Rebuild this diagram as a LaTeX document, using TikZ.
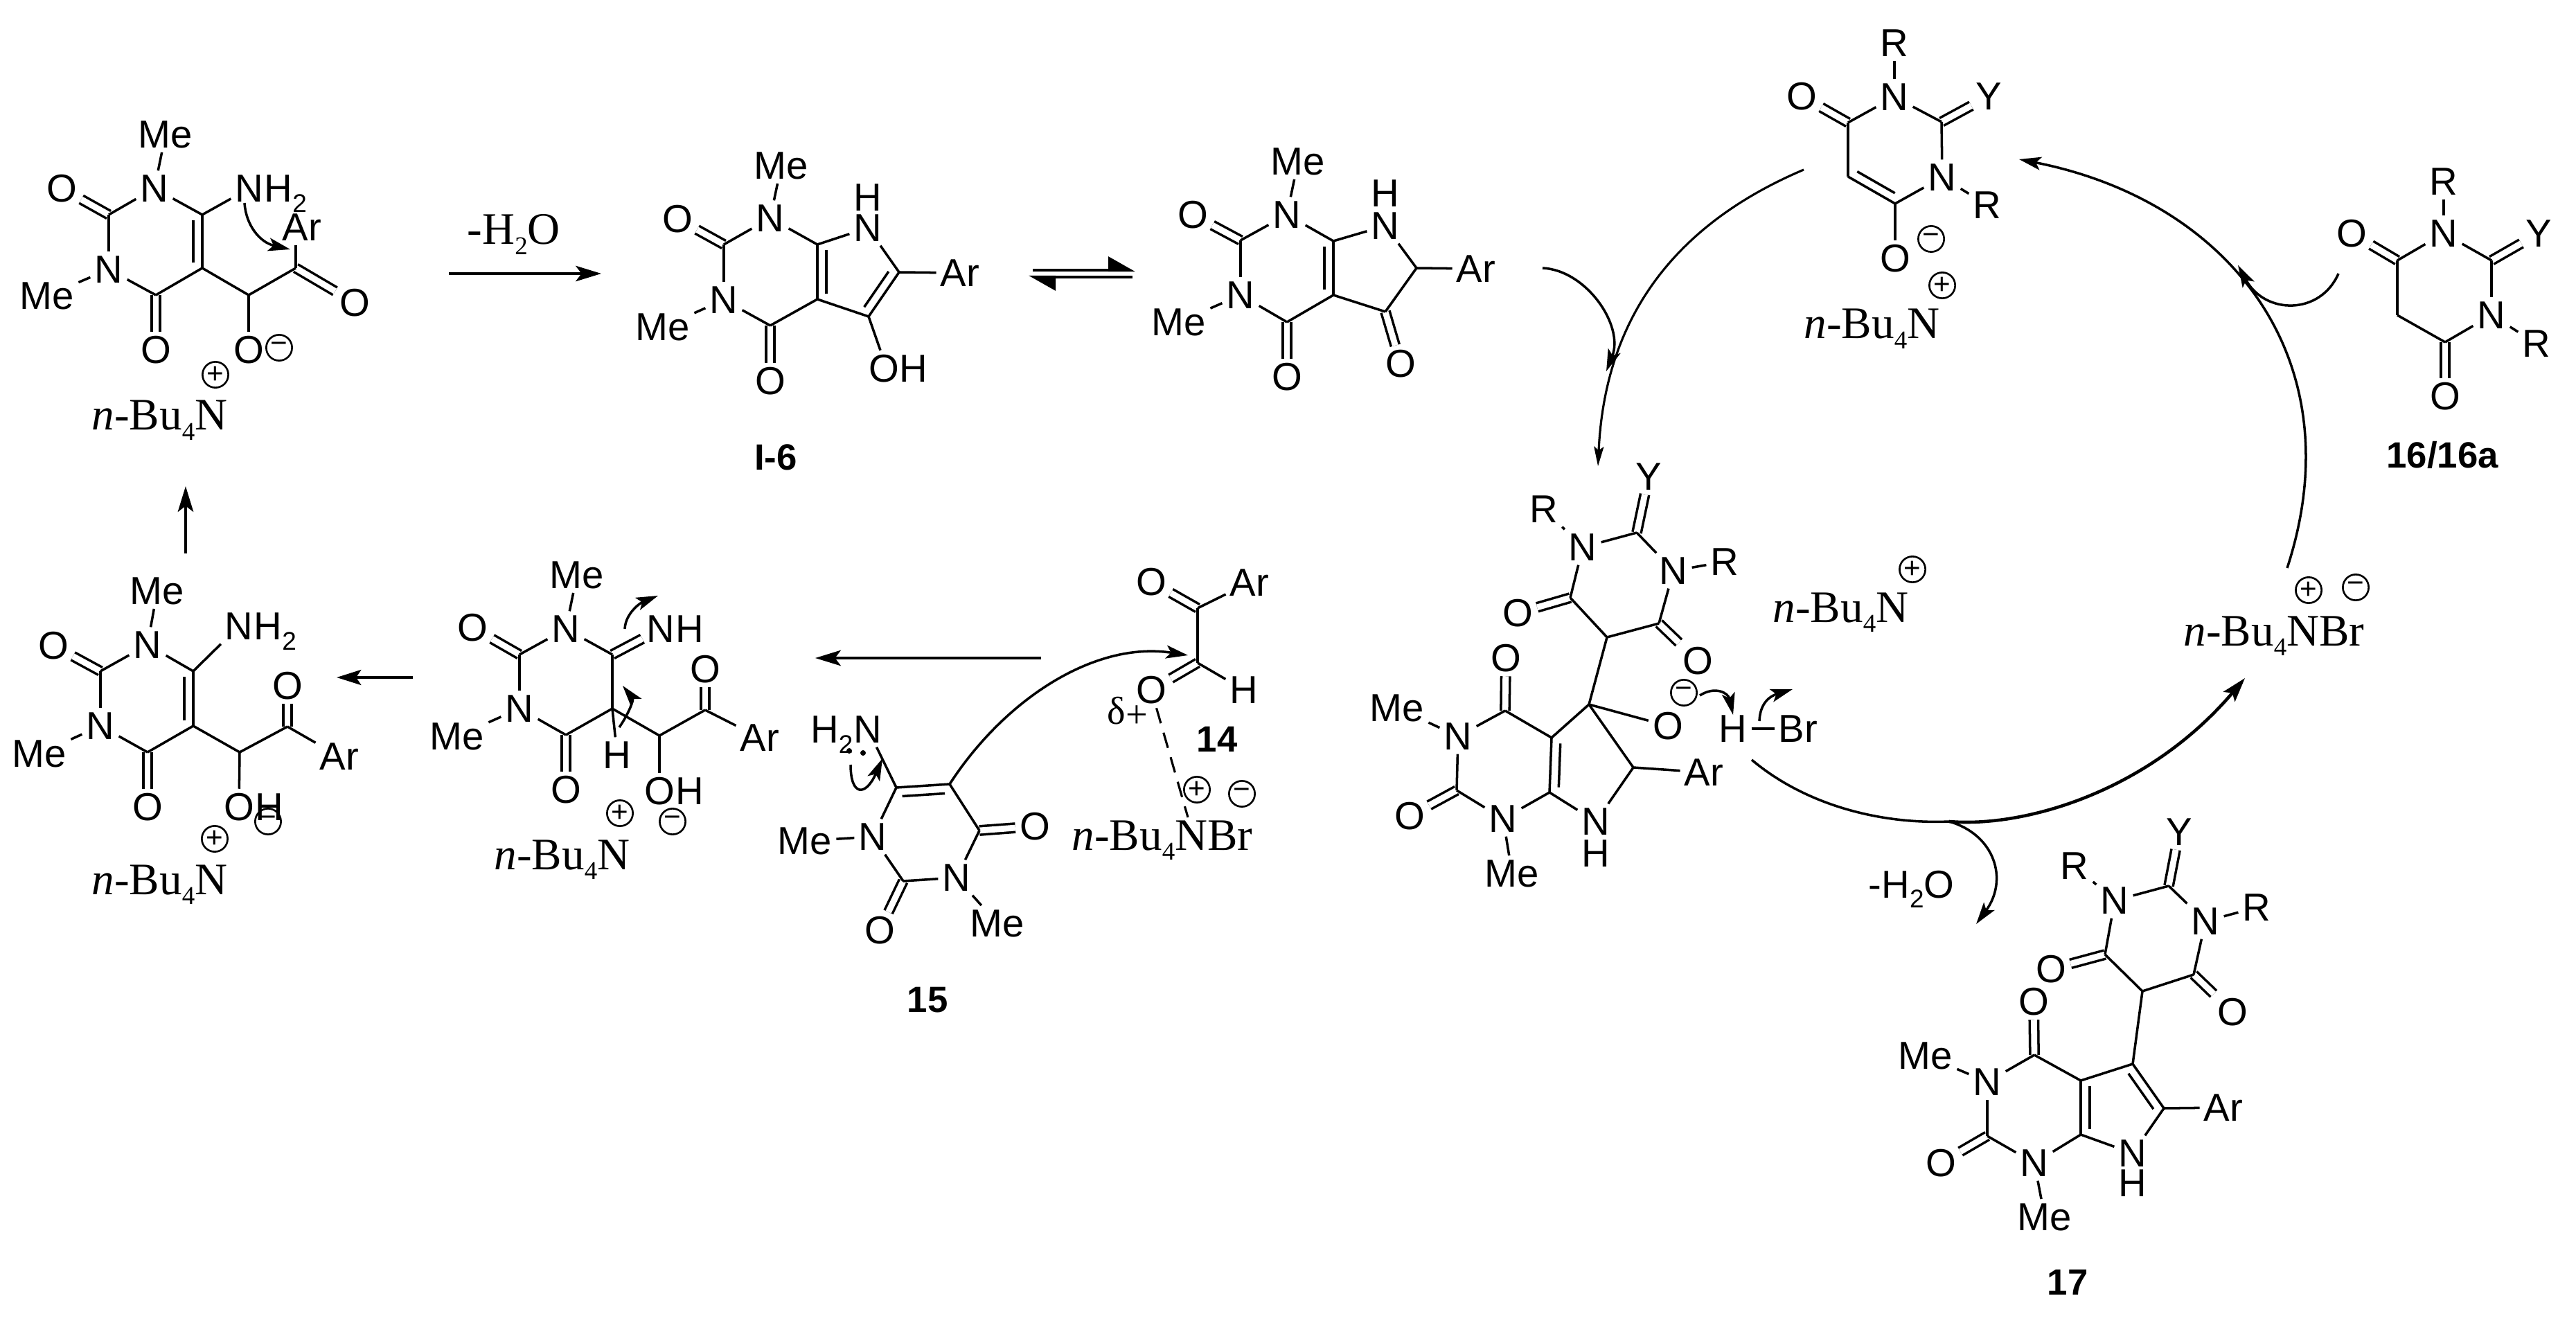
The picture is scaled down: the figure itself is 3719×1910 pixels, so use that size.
\documentclass[tikz,border=0pt]{standalone}
\usepackage{fontspec}
\setmainfont{Liberation Sans}
\newfontfamily\tmf{Liberation Serif}
\usetikzlibrary{arrows.meta,calc}
\newcommand\Sbs[1]{\raisebox{-4.2pt}{\fontsize{10.5}{12}\selectfont #1}}
\newcommand\Atm[4][]{\node[atom,#1] (#2) at (#3) {#4};}
\newcommand\Cc[2]{\coordinate (#1) at (#2);}
\newcommand\Chg[3]{\node[chg] (#1) at (#2) {#3};}
\newcommand\Bu[3]{\node[ser,anchor=base west] (#1) at (#2) {\textit{n}-Bu\Sbs{4}#3};}
\newcommand\Bonds[1]{\foreach \u/\v in {#1} \draw[bond] (\u) -- (\v);}
\newcommand\Dbls[1]{\foreach \u/\v in {#1} \draw[dbond] (\u) -- (\v);}
\newcommand\Inner[2]{\draw[bond] ($(#1)!.1!(#2)!3.7pt!90:(#2)$) -- ($(#2)!.1!(#1)!3.7pt!-90:(#1)$);}
\newcommand\Tail[3]{\node[atom,inner sep=0pt,anchor=base west,xshift=-1.6pt] (#1) at (#2.base east) {#3};}
\tikzset{
  atom/.style={font=\fontsize{16}{18}\selectfont,inner sep=1.6pt},
  ser/.style={font=\tmf\fontsize{18.5}{22}\selectfont,inner sep=0pt},
  lab/.style={font=\bfseries\fontsize{15}{18}\selectfont,inner sep=0pt},
  chg/.style={circle,draw,line width=.75pt,minimum size=10.6pt,inner sep=0pt,font=\fontsize{12}{12}\selectfont},
  bond/.style={line width=1pt},
  dbond/.style={line width=1pt,double,double distance=2.5pt},
  rxn/.style={line width=1pt,-{Stealth[length=10.5pt,width=6.4pt,inset=2.4pt]}},
  thk/.style={line width=1.3pt,-{Stealth[length=10pt,width=6.2pt,inset=2pt]}},
  mech/.style={line width=1pt,-{Stealth[length=9pt,width=5.4pt,inset=2pt]}},
  slim/.style={line width=.9pt,-{Stealth[length=8pt,width=4pt,inset=1.5pt]}},
}
\begin{document}
\begin{tikzpicture}[x=0.01cm,y=-0.01cm]
\useasboundingbox (0,0) rectangle (3719,1910);
\fill[white] (0,0) rectangle (3719,1910);

% --- molecule A (top left)
\Atm{a1}{239,194}{Me}\Atm{a2}{223,272}{N}\Atm{a3}{89,272}{O}\Cc{a4}{157,310}
\Atm{a5}{157,389}{N}\Atm{a6}{68,427}{Me}\Cc{a7}{225,426}\Atm{a8}{225,505}{O}
\Cc{a9}{292,387}\Cc{a10}{292,310}\Atm{a11}{360,272}{N}
\Tail{a11h}{a11}{H\Sbs{2}}
\Cc{a12}{359,426}\Atm{a13}{359,505}{O}\Cc{a14}{427,387}\Atm{a15}{512,437}{O}\Atm{a16}{436,328}{Ar}
\Dbls{a3/a4,a7/a8,a14/a15}
\Bonds{a1/a2,a2/a4,a4/a5,a5/a6,a5/a7,a7/a9,a9/a10,a10/a2,a10/a11,a9/a12,a12/a13,a12/a14}
\Inner{a9}{a10}
\draw[bond] (a14) -- (a14 |- a16.south);
\Chg{a17}{403,502}{−}\Chg{a18}{311,541}{+}
\Bu{a19}{132,621}{N}
\Cc{a20}{353,293}\Cc{a21}{419,360}
\draw[mech] (a20) .. controls (355,325) and (375,350) .. (a21);

% --- -H2O arrow
\node[ser,anchor=base west] (w1) at (674,353) {-H\Sbs{2}O};
\Cc{w2}{648,395}\Cc{w3}{868,395}
\draw[rxn] (w2) -- (w3);

% --- I-6
\Atm{b1}{1128,239}{Me}\Atm{b2}{1112,315}{N}\Atm{b3}{978,316}{O}\Cc{b4}{1045,353}
\Atm{b5}{1045,433}{N}\Atm{b6}{957,472}{Me}\Cc{b7}{1112,470}\Atm{b8}{1112,550}{O}
\Cc{b9}{1180,432}\Cc{b10}{1180,353}\Atm{b11}{1253,329}{N}\Atm{b12}{1253,285}{H}
\Cc{b13}{1298,393}\Atm{b14}{1386,394}{Ar}\Cc{b15}{1254,457}
\Atm{b16}{1297,532}{OH}
\Dbls{b3/b4,b7/b8}
\Bonds{b1/b2,b2/b4,b4/b5,b5/b6,b5/b7,b7/b9,b9/b10,b10/b2,b10/b11,b11/b13,b13/b14,b13/b15,b15/b9}
\draw[bond] (b15) -- ($(b16.north)+(-26,0)$);
\Inner{b10}{b9}\Inner{b15}{b13}
\node[lab] (b17) at (1120,660) {I-6};

% --- equilibrium
\Cc{q1}{1491,390}\Cc{q2}{1639,390}\Cc{q3}{1635,400}\Cc{q4}{1485,400}
\draw[line width=1.2pt,-{Stealth[harpoon,length=10pt,width=11pt,inset=0pt]}] (q1) -- (q2);
\draw[line width=1.2pt,-{Stealth[harpoon,length=10pt,width=11pt,inset=0pt]}] (q3) -- (q4);

% --- III
\Atm{c1}{1874,233}{Me}\Atm{c2}{1858,310}{N}\Atm{c3}{1722,310}{O}\Cc{c4}{1791,347}
\Atm{c5}{1791,426}{N}\Atm{c6}{1702,465}{Me}\Cc{c7}{1858,465}\Atm{c8}{1858,544}{O}
\Cc{c9}{1925,426}\Cc{c10}{1925,348}\Atm{c11}{2000,326}{N}\Atm{c12}{2000,279}{H}
\Cc{c13}{2045,387}\Atm{c14}{2131,388}{Ar}\Cc{c15}{2000,450}\Atm{c16}{2022,525}{O}
\Dbls{c3/c4,c7/c8,c15/c16}
\Bonds{c1/c2,c2/c4,c4/c5,c5/c6,c5/c7,c7/c9,c9/c10,c10/c2,c10/c11,c11/c13,c13/c14,c13/c15,c15/c9}
\Inner{c9}{c10}
\Cc{c17}{2227,387}\Cc{c18}{2319,536}
\draw[mech] (c17) .. controls (2290,390) and (2345,470) .. (c18);

% --- top right
\Atm{d1}{2735,62}{R}\Atm{d2}{2735,140}{N}\Atm{d3}{2601,139}{O}\Cc{d4}{2668,177}
\Cc{d5}{2803,176}\Atm{d6}{2871,139}{Y}\Atm{d7}{2804,256}{N}\Atm{d8}{2869,296}{R}
\Cc{d9}{2736,294}\Cc{d10}{2668,255}\Atm{d11}{2736,373}{O}
\Dbls{d3/d4,d5/d6}
\Bonds{d1/d2,d2/d4,d2/d5,d5/d7,d7/d8,d7/d9,d9/d11,d4/d10,d10/d9}
\Inner{d10}{d9}
\Chg{d12}{2788,345}{−}\Chg{d13}{2804,412}{+}
\Bu{d14}{2604,489}{N}
\Cc{d15}{2604,245}\Cc{d16}{2307,673}
\draw[slim] (d15) .. controls (2380,340) and (2315,500) .. (d16);

% --- 16/16a
\Atm{e1}{3528,262}{R}\Atm{e2}{3528,337}{N}\Atm{e3}{3395,337}{O}\Cc{e4}{3461,376}
\Cc{e5}{3597,376}\Atm{e6}{3665,337}{Y}\Atm{e7}{3597,455}{N}\Atm{e8}{3662,496}{R}
\Cc{e9}{3530,494}\Cc{e10}{3461,455}\Atm{e11}{3530,572}{O}
\Dbls{e3/e4,e5/e6,e9/e11}
\Bonds{e1/e2,e2/e4,e2/e5,e5/e7,e7/e8,e7/e9,e9/e10,e10/e4}
\node[lab] (e12) at (3526,657) {16/16a};
\Cc{e13}{3376,395}\Cc{e14}{3231,383}
\draw[mech] (e13) .. controls (3350,455) and (3270,455) .. (e14);

% --- catalytic arc
\Cc{r1}{3302,820}\Cc{r2}{2915,230}
\draw[mech] (r1) .. controls (3400,520) and (3220,290) .. (r2);
\Bu{r3}{3152,932}{NBr}
\Chg{r4}{3333,852}{+}\Chg{r5}{3401,848}{−}

% --- central adduct
\Atm{f1}{2380,688}{Y}\Cc{f2}{2363,769}\Atm{f3}{2285,790}{N}\Atm{f4}{2229,735}{R}
\Atm{f5}{2416,824}{N}\Atm{f6}{2490,811}{R}\Cc{f7}{2267,863}\Atm{f8}{2191,885}{O}
\Cc{f9}{2395,900}\Atm{f10}{2451,954}{O}\Cc{f11}{2320,920}\Cc{f12}{2294,1017}
\Atm{f13}{2408,1048}{O}\Cc{f14}{2173,1026}\Atm{f15}{2174,950}{O}\Cc{f16}{2240,1065}
\Cc{f17}{2237,1144}\Atm{f18}{2105,1063}{N}\Atm{f19}{2017,1022}{Me}\Cc{f20}{2103,1141}
\Atm{f21}{2035,1178}{O}\Atm{f22}{2170,1182}{N}\Atm{f23}{2183,1261}{Me}
\Atm{f24}{2304,1186}{N}\Atm{f25}{2304,1232}{H}\Cc{f26}{2358,1108}\Atm{f27}{2460,1115}{Ar}
\Dbls{f1/f2,f7/f8,f9/f10,f14/f15,f20/f21}
\Bonds{f3/f4,f2/f3,f2/f5,f5/f6,f3/f7,f5/f9,f7/f11,f9/f11,f11/f12,f12/f13,f12/f16,f12/f26,f14/f16,f14/f18,f18/f19,f18/f20,f20/f22,f22/f23,f22/f17,f16/f17,f17/f24,f24/f26,f26/f27}
\Inner{f16}{f17}
\Chg{f28}{2431,1000}{−}
\Bu{f29}{2559,898}{N}\Chg{f30}{2761,822}{+}
\Atm{f31}{2502,1052}{H}\Atm{f32}{2596,1052}{Br}
\Bonds{f31/f32}
\Cc{f33}{2454,1004}\Cc{f34}{2502,1032}\Cc{f35}{2540,1041}\Cc{f36}{2588,995}
\draw[mech] (f33) .. controls (2476,990) and (2495,1000) .. (f34);
\draw[mech] (f35) .. controls (2541,1015) and (2555,1005) .. (f36);
% lower arc and branch
\Cc{s1}{2529,1097}\Cc{s2}{2814,1186}\Cc{s3}{3241,979}\Cc{s4}{2853,1334}
\draw[bond] (s1) .. controls (2610,1165) and (2720,1190) .. (s2);
\draw[thk] (s2) .. controls (2920,1195) and (3100,1145) .. (s3);
\draw[mech] (s2) .. controls (2880,1205) and (2900,1270) .. (s4);
\node[atom,inner sep=0pt,anchor=base west] (s5) at (2697,1296) {-H\Sbs{2}O};

% --- 17
\Atm{g1}{3146,1201}{Y}\Cc{g2}{3131,1279}\Atm{g3}{3053,1300}{N}\Atm{g4}{2995,1250}{R}
\Atm{g5}{3184,1330}{N}\Atm{g6}{3258,1310}{R}\Cc{g7}{3039,1378}\Atm{g8}{2961,1399}{O}
\Cc{g9}{3167,1407}\Atm{g10}{3223,1461}{O}\Cc{g11}{3093,1431}\Cc{g12}{3079,1536}
\Cc{g13}{3004,1560}\Cc{g14}{2937,1523}\Atm{g15}{2936,1446}{O}\Atm{g16}{2869,1562}{N}
\Atm{g17}{2780,1524}{Me}\Cc{g18}{2869,1640}\Atm{g19}{2802,1679}{O}\Atm{g20}{2937,1679}{N}
\Atm{g21}{2952,1757}{Me}\Cc{g22}{3004,1638}\Atm{g23}{3079,1665}{N}\Atm{g24}{3079,1708}{H}
\Cc{g25}{3124,1600}\Atm{g26}{3210,1599}{Ar}
\Dbls{g1/g2,g7/g8,g9/g10,g14/g15,g18/g19}
\Bonds{g3/g4,g2/g3,g2/g5,g5/g6,g3/g7,g5/g9,g7/g11,g9/g11,g11/g12,g12/g13,g13/g14,g14/g16,g16/g17,g16/g18,g18/g20,g20/g21,g20/g22,g22/g13,g22/g23,g23/g25,g25/g12,g25/g26}
\Inner{g13}{g22}\Inner{g25}{g12}
\node[lab] (g27) at (2985,1851) {17};

% --- 14
\Atm{h1}{1662,840}{O}\Atm{h2}{1804,841}{Ar}\Cc{h3}{1729,878}\Cc{h4}{1729,957}
\Atm{h5}{1662,996}{O}\Atm{h6}{1796,996}{H}
\Dbls{h1/h3,h4/h5}
\Bonds{h2/h3,h3/h4,h4/h6}
\node[ser,font=\tmf\fontsize{16}{18}\selectfont,anchor=base west] (h7) at (1598,1045) {δ\raisebox{-1.5pt}{+}};
\node[lab] (h8) at (1757,1067) {14};
\Bu{h9}{1547,1227}{NBr}
\Cc{h10}{1715,1180}
\draw[line width=.9pt,dash pattern=on 6.5pt off 4pt] (h5) -- (h10);
\Chg{h11}{1728,1140}{+}\Chg{h12}{1793,1146}{−}

% --- 15
\Atm{i1}{1253,1053}{N}
\node[atom,inner sep=0pt,anchor=base east,xshift=1.6pt] (i1h) at (i1.base west) {H\Sbs{2}};
\Cc{i2}{1294,1137}\Cc{i3}{1371,1132}\Cc{i4}{1414,1199}\Atm{i5}{1494,1193}{O}
\Atm{i6}{1381,1267}{N}\Atm{i7}{1440,1333}{Me}\Cc{i8}{1304,1272}\Atm{i9}{1270,1343}{O}
\Atm{i10}{1260,1208}{N}\Atm{i11}{1162,1214}{Me}
\Dbls{i4/i5,i8/i9}
\Bonds{i1/i2,i2/i3,i3/i4,i4/i6,i6/i7,i6/i8,i8/i10,i10/i11,i10/i2}
\Inner{i3}{i2}
\node[lab] (i12) at (1339,1444) {15};
\fill (1226,1084) circle (4) (1246,1087) circle (4);
\Cc{i13}{1228,1104}\Cc{i14}{1274,1095}\Cc{i15}{1715,946}
\draw[mech] (i13) .. controls (1228,1150) and (1250,1150) .. (i14);
\draw[mech] (i3) .. controls (1450,1010) and (1580,925) .. (i15);
\Cc{i16}{1503,950}\Cc{i17}{1177,950}
\draw[rxn] (i16) -- (i17);

% --- mid right (k)
\Atm{k1}{833,830}{Me}\Atm{k2}{817,908}{N}\Atm{k3}{682,906}{O}\Cc{k4}{750,945}
\Atm{k5}{750,1023}{N}\Atm{k6}{660,1063}{Me}\Cc{k7}{817,1061}\Atm{k8}{817,1140}{O}
\Cc{k9}{884,1023}\Cc{k10}{884,945}\Atm{k11}{954,908}{N}
\Tail{k11h}{k11}{H}
\Atm{k12}{891,1090}{H}
\Cc{k13}{952,1062}\Atm{k14}{952,1142}{O}
\Tail{k14h}{k14}{H}
\Cc{k15}{1018,1025}\Atm{k16}{1018,966}{O}\Atm{k17}{1097,1065}{Ar}
\Dbls{k3/k4,k7/k8,k10/k11,k15/k16}
\Bonds{k1/k2,k2/k4,k4/k5,k5/k6,k5/k7,k7/k9,k9/k10,k10/k2,k9/k12,k9/k13,k13/k14,k13/k15,k15/k17}
\Chg{k18}{971,1186}{−}\Chg{k19}{895,1174}{+}
\Bu{k20}{713,1255}{N}
\Cc{k21}{902,908}\Cc{k22}{950,860}\Cc{k23}{894,1050}\Cc{k24}{899,990}
\draw[mech] (k21) .. controls (903,885) and (925,870) .. (k22);
\draw[mech] (k23) .. controls (908,1030) and (915,1010) .. (k24);
\Cc{k25}{596,978}\Cc{k26}{486,978}
\draw[thk] (k25) -- (k26);

% --- mid left (j)
\Atm{j1}{227,853}{Me}\Atm{j2}{213,931}{N}\Atm{j3}{77,932}{O}\Cc{j4}{145,969}
\Atm{j5}{145,1048}{N}\Atm{j6}{57,1088}{Me}\Cc{j7}{213,1086}\Atm{j8}{213,1165}{O}
\Cc{j9}{279,1048}\Cc{j10}{279,969}\Atm{j11}{345,904}{N}
\Tail{j11h}{j11}{H\Sbs{2}}
\Cc{j12}{346,1086}\Atm{j13}{345,1165}{O}
\Tail{j13h}{j13}{H}
\Cc{j14}{415,1049}\Atm{j15}{415,990}{O}\Atm{j16}{490,1092}{Ar}
\Dbls{j3/j4,j7/j8,j14/j15}
\Bonds{j1/j2,j2/j4,j4/j5,j5/j6,j5/j7,j7/j9,j9/j10,j10/j2,j10/j11,j9/j12,j12/j13,j12/j14,j14/j16}
\Inner{j9}{j10}
\Chg{j17}{387,1186}{−}\Chg{j18}{310,1211}{+}
\Bu{j19}{132,1291}{N}
\Cc{j20}{268,799}\Cc{j21}{268,702}
\draw[rxn] (j20) -- (j21);
\end{tikzpicture}
\end{document}
